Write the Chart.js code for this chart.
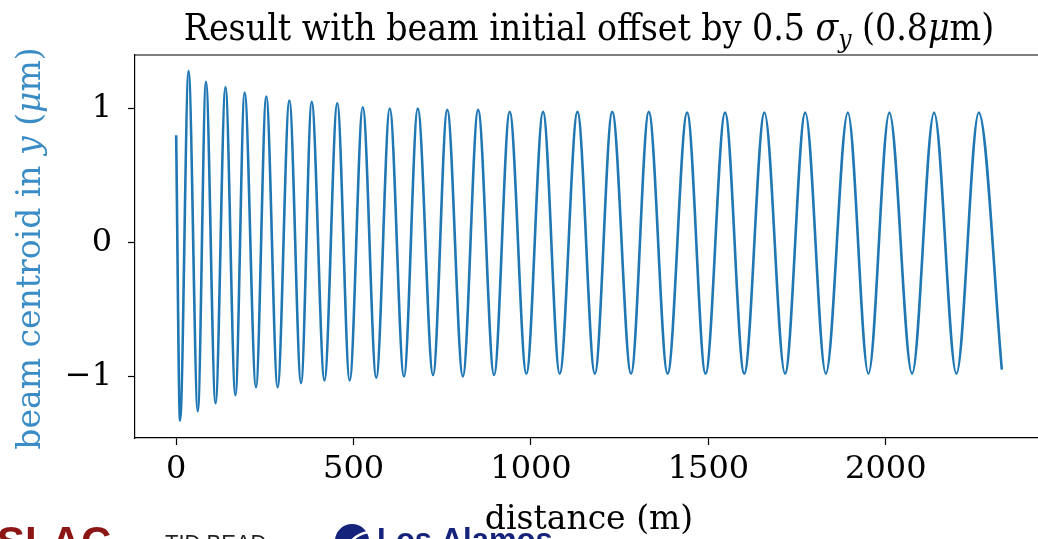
<!DOCTYPE html>
<html>
<head>
<meta charset="utf-8">
<script src="https://cdn.jsdelivr.net/npm/chart.js@4/dist/chart.umd.min.js"></script>
<style>
  html, body { margin: 0; padding: 0; background: #fff; overflow: hidden; width: 1038px; height: 539px; }
  #wrap { position: absolute; left: 0; top: 0; width: 1046px; height: 539px; }
</style>
</head>
<body>
<div id="wrap"><canvas id="myChart" width="1046" height="539"></canvas></div>
<script>
// peaks and troughs of the centroid (distance in m, centroid in um)
const distance = [0, 11, 35, 61, 84, 111, 139, 167, 193, 225, 254, 286, 319, 352, 382, 418, 454, 489,
    526, 564, 602, 642, 681, 724, 764, 808, 851, 896, 940, 987, 1034, 1081, 1131, 1180, 1229, 1282,
    1332, 1385, 1440, 1492, 1547, 1601, 1658, 1716, 1773, 1831, 1893, 1951, 2010, 2074, 2136, 2199,
    2262, 2327];
const centroid = [0.80, -1.33, 1.28, -1.26, 1.20, -1.20, 1.16, -1.14, 1.12, -1.08, 1.09, -1.08, 1.06,
    -1.05, 1.05, -1.03, 1.04, -1.03, 1.01, -1.01, 1.00, -1.00, 1.00, -0.99, 0.99, -1.00, 0.99, -0.99,
    0.975, -0.98, 0.975, -0.98, 0.975, -0.98, 0.975, -0.98, 0.975, -0.98, 0.97, -0.98, 0.97, -0.98,
    0.97, -0.98, 0.97, -0.98, 0.97, -0.98, 0.97, -0.98, 0.97, -0.98, 0.97, -0.95];
const xTicks = [0, 500, 1000, 1500, 2000];
const yTicks = [-1, 0, 1];

const SERIF = '"DejaVu Serif"';
const SERIF_COND = '"DejaVu Serif Condensed", "DejaVu Serif"';

// draw a line of text made of plain / italic / subscript pieces
function drawRich(ctx, parts, x, y, size, color, family) {
    family = family || SERIF;
    let setFont = p => {
        ctx.font = (p.it ? 'italic ' : '') + Math.round(p.sub ? size * 0.7 : size) + 'px ' + family;
    };
    let widths = parts.map(p => {
        setFont(p);
        return ctx.measureText(p.t).width;
    });
    let total = widths.reduce((a, b) => a + b, 0);
    let cx = x - total / 2;
    ctx.fillStyle = color;
    ctx.textBaseline = 'alphabetic';
    ctx.textAlign = 'left';
    parts.forEach((p, i) => {
        setFont(p);
        ctx.fillText(p.t, cx, y + (p.sub ? size * 0.22 : 0));
        cx += widths[i];
    });
}

const decor = {
    id: 'decor',
    afterDraw(chart) {
        const ctx = chart.ctx;
        const a = chart.chartArea;
        ctx.save();
        // top / right spines
        ctx.strokeStyle = '#000';
        ctx.lineWidth = 1.2;
        ctx.beginPath();
        ctx.moveTo(a.left, a.top);
        ctx.lineTo(a.right, a.top);
        ctx.lineTo(a.right, a.bottom);
        ctx.stroke();

        let mid = (a.left + a.right) / 2;
        drawRich(ctx, [
            { t: 'Result with beam initial offset by 0.5 ' },
            { t: '\u03c3', it: true },
            { t: 'y', it: true, sub: true },
            { t: ' (0.8' },
            { t: '\u03bc', it: true },
            { t: 'm)' }
        ], mid, 40, 37, '#000', SERIF_COND);

        drawRich(ctx, [{ t: 'distance (m)' }], mid, 529, 33, '#000');

        ctx.save();
        ctx.translate(40, (a.top + a.bottom) / 2 + 2);
        ctx.rotate(-Math.PI / 2);
        drawRich(ctx, [
            { t: 'beam centroid in ' },
            { t: 'y', it: true },
            { t: ' (' },
            { t: '\u03bc', it: true },
            { t: 'm)' }
        ], 0, 0, 33, '#3a8cc6');
        ctx.restore();

        // logos strip at the bottom, cut by the page edge
        ctx.textAlign = 'left';
        ctx.textBaseline = 'alphabetic';
        ctx.font = 'bold 42px "Liberation Sans"';
        ctx.fillStyle = '#8c1515';
        ctx.fillText('SLAC', -3, 556);
        ctx.font = '22px "Liberation Sans"';
        ctx.fillStyle = '#222';
        ctx.fillText('TID BEAD', 165, 550);
        ctx.fillStyle = '#16237a';
        ctx.beginPath();
        ctx.arc(352, 541, 17, 0, Math.PI * 2);
        ctx.fill();
        ctx.strokeStyle = '#fff';
        ctx.lineWidth = 2.5;
        ctx.beginPath();
        ctx.arc(372, 560, 28, Math.PI * 1.05, Math.PI * 1.45);
        ctx.stroke();
        ctx.font = 'bold 31px "Liberation Sans"';
        ctx.fillText('Los Alamos', 377, 550);
        ctx.restore();
    }
};

function fmt(v) {
    return v < 0 ? '\u2212' + Math.abs(v) : String(v);
}

const data = {
    datasets: [
        {
            label: 'centroid',
            data: distance.map((d, i) => ({ x: d, y: centroid[i] })),
            borderColor: '#1f77b4',
            borderWidth: 2.6,
            pointRadius: 0,
            fill: false,
            cubicInterpolationMode: 'monotone'
        }
    ]
};

const axisCommon = {
    type: 'linear',
    bounds: 'data',
    grid: { drawOnChartArea: false, drawTicks: true, tickLength: 7, tickWidth: 1.2, color: '#000' },
    border: { display: true, color: '#000', width: 1.2 },
    ticks: { color: '#000', font: { family: SERIF, size: 32 }, padding: 5, maxRotation: 0, callback: fmt }
};

const config = {
    type: 'line',
    data: data,
    options: {
        responsive: false,
        animation: false,
        devicePixelRatio: 1,
        layout: { padding: { top: 55, right: 3, left: 0, bottom: 0 } },
        plugins: { legend: { display: false }, tooltip: { enabled: false }, title: { display: false } },
        scales: {
            x: Object.assign({}, axisCommon, {
                min: -116,
                max: 2443,
                afterBuildTicks: s => { s.ticks = xTicks.map(v => ({ value: v })); },
                afterFit: s => { s.height = 101; }
            }),
            y: Object.assign({}, axisCommon, {
                min: -1.46,
                max: 1.40,
                afterBuildTicks: s => { s.ticks = yTicks.map(v => ({ value: v })); },
                afterFit: s => { s.width = 135; },
                ticks: Object.assign({}, axisCommon.ticks, { padding: 16 })
            })
        }
    },
    plugins: [decor]
};

const myChart = new Chart(document.getElementById('myChart'), config);
</script>
</body>
</html>
